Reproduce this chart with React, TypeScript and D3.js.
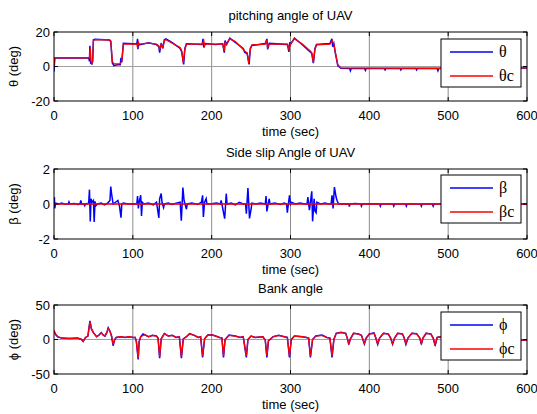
import * as React from "react";
import * as d3 from "d3";

// time axis
const timeTicks = [0, 100, 200, 300, 400, 500, 600];

// pitching angle (deg): [time, value]
const thetaCmd = [
  [0, 0], [1, 5], [44, 5], [45, 5], [46, 11], [47, 3], [48, 2], [49, 3], [50, 15], [52, 15.5], [70, 15.5],
  [72, 15], [74, 3], [76, 1.5], [84, 1.5], [86, 3], [88, 13], [100, 13], [105, 13], [106, 11], [107, 14],
  [108, 13], [120, 13.5], [130, 13], [133, 12], [134, 9.7], [136, 13], [138, 11], [140, 15], [142, 15.5],
  [150, 13.5], [160, 11], [162, 9], [164, 2], [166, 10], [168, 13], [188, 13], [190, 15], [191, 12],
  [192, 13], [205, 13], [214, 13], [216, 9], [217, 14], [219, 13], [223, 16], [230, 14.5], [240, 10],
  [242, 8.8], [245, 8], [247, 2], [249, 10], [251, 12.5], [268, 13], [270, 15], [271, 11], [273, 13],
  [296, 13], [298, 10], [300, 13], [305, 16], [315, 13], [325, 9], [327, 8], [329, 2.4], [331, 10],
  [333, 12.5], [350, 13], [353, 15], [355, 13], [357, 8], [360, 1], [364, -0.8], [400, -1], [490, -1],
  [600, -0.8],
];
const theta = [
  [0, -3], [1, 5], [44, 5], [45, 3], [45.5, 12], [46.5, 2], [48, 1.5], [49, 3], [50, 15.5], [52, 15.8],
  [70, 15.3], [72, 14.5], [74, 2], [76, 0.5], [80, 1], [84, 1], [85, 5], [86, 2.5], [88, 13.5], [100, 13.2],
  [105, 13], [106, 16], [106.5, 10], [107, 13.5], [108, 12.5], [120, 13.8], [130, 12.7], [133, 11.5],
  [134, 8], [136, 13.5], [138, 10.5], [140, 15.5], [142, 16], [150, 13.8], [160, 10.5], [162, 8.5],
  [164.5, 1.2], [166, 10.5], [168, 13.2], [188, 12.8], [189, 16], [190, 11], [191, 12.5], [192, 13.3],
  [205, 12.8], [214, 13.2], [216, 8], [217, 15], [219, 12.8], [223, 16.5], [230, 14], [240, 10.5],
  [242, 8.2], [245, 7.5], [247.5, 1.2], [249, 10.5], [251, 12.2], [268, 13.3], [270, 16], [271, 10],
  [273, 13.4], [296, 12.8], [298, 8.5], [299, 14], [300, 12.8], [305, 16.5], [315, 12.6], [325, 8.5],
  [327, 7.5], [329, 2], [331, 10.5], [333, 12.8], [350, 13.3], [352.5, 16], [353.5, 11.5], [355, 13.3],
  [357, 7.5], [360, 0.5], [364, -1], [375, -1.1], [376, -2.4], [377, -1.1], [394, -1.1], [395, -2.2],
  [396, -1.1], [419, -1.1], [420, -2], [421, -1.1], [439, -1.1], [440, -2], [441, -1.1], [459, -1.1],
  [460, -2], [461, -1.1], [486, -1.1], [487, -2.4], [488, -1.1], [600, -0.9],
];

// side slip angle (deg)
const betaCmd = [[0, 0], [600, 0]];
const beta = [
  [0, 0], [0.5, 0.4], [1, -0.25], [2, 0.05], [6, 0], [10, 0.05], [14, -0.02], [18, 0], [19, 0.12], [20, 0],
  [26, 0.03], [30, -0.03], [33, 0], [34, 0.2], [35, 0], [38, 0], [39, -0.1], [40, 0], [44, 0.05], [45, 0.82],
  [46, -1.0], [47, 0.3], [48, 0.1], [50, 0.2], [51, -1.03], [52, 0.15], [53, -0.1], [55, 0], [60, 0.05],
  [64, -0.05], [68, 0.05], [71, 0.2], [72, 1.0], [73, 0.6], [74, 0.3], [75, 0], [78, 0.1], [81, 0.2],
  [83, -0.1], [85, -0.78], [86, 0], [88, 0.05], [94, 0], [100, 0.02], [105, 0], [106, 0.46], [107, -0.25],
  [108, 0.1], [110, 0.5], [111, -0.69], [112, 0.1], [114, 0], [120, 0.05], [126, -0.05], [130, 0.1],
  [133, -0.8], [134, 0.3], [136, 0.6], [137, 0.1], [139, -0.2], [140, 0], [145, 0.05], [150, -0.03],
  [155, 0.05], [160, 0.1], [161.5, -0.95], [163.5, 0.94], [165, 0.2], [168, -0.3], [169, 0], [175, 0.05],
  [182, -0.03], [187, 0.1], [188.5, 0.5], [189.5, -0.74], [191, 0.1], [193, 0.3], [194, 0], [200, 0.02],
  [206, 0.05], [211, 0], [212, 0.2], [213, 0], [216.5, -0.84], [218.5, 0.59], [219.5, 0], [225, 0.05],
  [230, -0.05], [235, 0.1], [240, 0], [243, 0], [244, -0.55], [246, 0.91], [248, -0.82], [250, -0.3],
  [251, 0.05], [256, 0], [262, 0.05], [268, 0], [269, 0.46], [270, -0.42], [273, 0.3], [274, 0], [280, 0.05],
  [287, -0.03], [292, 0.05], [295, 0], [296, -0.5], [298.7, 0.5], [300, 0], [301, 0.1], [306, 0],
  [312, 0.05], [318, 0], [321, 0], [322, 0.4], [324, -0.35], [327, 0.73], [328, -0.99], [330, 0.3],
  [331, -0.4], [332.5, -0.5], [333.5, 0.1], [338, 0], [344, 0.05], [348, 0], [351.5, 0], [352.7, 0.5],
  [354, -0.25], [355.7, 0.97], [357.8, 0.4], [359, 0.2], [361, 0], [368, 0.02], [374, 0], [374.7, -0.15],
  [375.5, 0], [382, 0.03], [389, 0], [390, -0.12], [391, 0], [400, 0.02], [413, 0], [414, -0.12], [415, 0],
  [430, 0], [431, -0.12], [432, 0], [446, 0], [447, -0.12], [448, 0], [465, 0], [466, -0.12], [467, 0],
  [480, 0], [481, -0.12], [482, 0], [490, 0], [600, 0],
];

// bank angle (deg)
const phiCmd = [
  [0, 13.5], [2, 8], [5, 4], [10, 2], [20, 1.5], [30, 2], [35, 0], [37, -2.4], [40, 3], [43, 5],
  [45.6, 26], [47.5, 16], [50, 10], [54, 4], [57, 6], [60, 9.7], [62, 7], [64.6, 5], [67, 10],
  [68.8, 16], [71, 12], [73, 5], [75, -7], [77, 0], [79, 3], [85, 4], [90, 3], [95, 4], [100, 3],
  [103, 3], [104.5, -3], [106.8, -27], [108, -3], [110, 4], [115, 7], [120, 4], [125, 6], [130, 5],
  [132, 2], [134, -25], [136, 1], [140, 8.5], [145, 5], [150, 6], [155, 3], [159, 4], [161.6, -25],
  [164, 1], [168, 4], [172, 8], [178, 6], [183, 3], [186, 4], [188.5, -24], [191, 1], [195, 6], [200, 7],
  [205, 5], [210, 3], [213, 2], [215, -24], [217, 0], [222, 6], [230, 5], [236, 3], [240, 4], [244, -24],
  [246, 0], [250, 5], [255, 3], [265, 4], [268, -1], [270, -24], [272, -2], [278, 4], [285, 6], [292, 4],
  [296, 3], [298.7, -24], [301, 0], [305, 5], [315, 4], [320, 3], [323, 2], [325.3, -24], [328, 0],
  [332, 5], [340, 6], [346, 3], [350, 2], [352.7, -24], [355, 0], [358, 9], [364, 10], [370, 9],
  [372, 2], [374, -6], [376, 1], [380, 9], [386, 8], [390, 6], [393.7, -5.5], [396, 2], [400, 8],
  [406, 9], [408, 3], [410.6, -6], [413, 2], [418, 9], [424, 8], [427, 2], [429.5, -6], [432, 2],
  [436, 9], [442, 8], [444, 3], [446.4, -6], [449, 2], [454, 9], [460, 8], [464, 2], [466, -6], [468, 2],
  [472, 9], [478, 8], [481, 2], [483.5, -8], [486, 3], [490, 4], [495, 2], [590, -1], [600, -1],
];
const phi = [
  [0, 12], [2, 7], [5, 3.5], [10, 2], [20, 1.5], [30, 2], [35, 0], [37, -2.8], [40, 3], [43, 5],
  [45.6, 27], [47.5, 15], [50, 10], [54, 4], [57, 6.5], [60, 10], [62, 7], [64.6, 5], [67, 10],
  [68.8, 17], [71, 12], [73, 5], [75, -9], [77, 0], [79, 3], [85, 4], [90, 3], [95, 4], [100, 3],
  [103, 3], [104.5, -3], [106.8, -29], [108, -3], [110, 4], [113, 8], [120, 4], [125, 6], [130, 5],
  [132, 2], [134, -27], [136, 1], [140, 8.5], [145, 5], [150, 6], [155, 3], [159, 4], [161.6, -27],
  [164, 1], [168, 4], [172, 8.5], [178, 6], [183, 3], [186, 4], [188.5, -26], [191, 1], [195, 6.5],
  [200, 7], [205, 5], [210, 3], [213, 2], [215, -26], [217, 0], [222, 6.5], [230, 5], [236, 3], [240, 4],
  [244, -26], [246, 0], [250, 5], [255, 3], [265, 4], [268, -1], [270, -26], [272, -2], [278, 4],
  [285, 6], [292, 4], [296, 3], [298.7, -26], [301, 0], [305, 5], [315, 4], [320, 3], [323, 2],
  [325.3, -26], [328, 0], [332, 5], [340, 6.5], [346, 3], [350, 2], [352.7, -26], [355, 0], [358, 9],
  [364, 10.5], [370, 9], [372, 2], [374, -7.5], [376, 1], [380, 9], [386, 8], [390, 6], [393.7, -6.5],
  [396, 2], [400, 8], [406, 9.5], [408, 3], [410.6, -7], [413, 2], [418, 9], [424, 8], [427, 2],
  [429.5, -7], [432, 2], [436, 9], [442, 8], [444, 3], [446.4, -7], [449, 2], [454, 9], [460, 8.5],
  [464, 2], [466, -7], [468, 2], [472, 9], [478, 8], [481, 2], [483.5, -9], [486, 3], [490, 4], [495, 2],
  [590, -1], [600, -1],
];

const panels = [
  {
    title: "pitching angle of UAV", ylabel: "θ (deg)", top: 32, bottom: 101, domain: [-20, 20],
    ticks: [-20, 0, 20], actual: theta, cmd: thetaCmd, names: ["θ", "θc"], legendTop: 39,
  },
  {
    title: "Side slip Angle of UAV", ylabel: "β (deg)", top: 169, bottom: 239, domain: [-2, 2],
    ticks: [-2, 0, 2], actual: beta, cmd: betaCmd, names: ["β", "βc"], legendTop: 175,
  },
  {
    title: "Bank angle", ylabel: "ϕ (deg)", top: 305, bottom: 374, domain: [-50, 50],
    ticks: [-50, 0, 50], actual: phi, cmd: phiCmd, names: ["ϕ", "ϕc"], legendTop: 312,
  },
];

const left = 54;
const right = 527;
const font = "'Liberation Sans', Arial, sans-serif";

function Panel({ p, idx }) {
  const x = d3.scaleLinear().domain([0, 600]).range([left, right]);
  const y = d3.scaleLinear().domain(p.domain).range([p.bottom, p.top]);
  const line = d3.line().x(d => x(d[0])).y(d => y(d[1]));
  const clipId = `clip${idx}`;
  const midX = (left + right) / 2;
  const tl = 4;

  return (
    <g>
      <defs>
        <clipPath id={clipId}>
          <rect x={left} y={p.top} width={right - left} height={p.bottom - p.top} />
        </clipPath>
      </defs>
      <rect x={left} y={p.top} width={right - left} height={p.bottom - p.top} fill="#fff" />
      {/* grid */}
      {timeTicks.slice(1, -1).map(t => (
        <line key={t} x1={x(t)} x2={x(t)} y1={p.top} y2={p.bottom} stroke="#8c8c8c" strokeWidth={1} />
      ))}
      <line x1={left} x2={right} y1={y(0)} y2={y(0)} stroke="#a0a0a0" strokeWidth={1} />
      {/* data */}
      <g clipPath={`url(#${clipId})`}>
        <path d={line(p.actual)} fill="none" stroke="#0000ff" strokeWidth={1.5} />
        <path d={line(p.cmd)} fill="none" stroke="#ff0000" strokeWidth={1.3} />
      </g>
      {/* box and ticks */}
      <rect x={left} y={p.top} width={right - left} height={p.bottom - p.top} fill="none" stroke="#000" strokeWidth={1} />
      {timeTicks.map(t => (
        <g key={t}>
          <line x1={x(t)} x2={x(t)} y1={p.bottom} y2={p.bottom - tl} stroke="#000" />
          <line x1={x(t)} x2={x(t)} y1={p.top} y2={p.top + tl} stroke="#000" />
          <text x={x(t)} y={p.bottom + 19} textAnchor="middle" fontSize={13} fontFamily={font}>{t}</text>
        </g>
      ))}
      {p.ticks.map(v => (
        <g key={v}>
          <line x1={left} x2={left + tl} y1={y(v)} y2={y(v)} stroke="#000" />
          <line x1={right} x2={right - tl} y1={y(v)} y2={y(v)} stroke="#000" />
          <text x={left - 4} y={y(v) + 4.5} textAnchor="end" fontSize={13} fontFamily={font}>{v}</text>
        </g>
      ))}
      <text x={midX} y={p.top - 12} textAnchor="middle" fontSize={13} fontFamily={font}>{p.title}</text>
      <text x={midX} y={p.bottom + 35} textAnchor="middle" fontSize={13} fontFamily={font}>time (sec)</text>
      <text transform={`translate(18,${(p.top + p.bottom) / 2}) rotate(-90)`} textAnchor="middle"
        fontSize={13} fontFamily={font}>{p.ylabel}</text>
      {/* legend */}
      <g transform={`translate(441,${p.legendTop})`}>
        <rect x={0} y={0} width={80} height={48} fill="#fff" stroke="#000" strokeWidth={1} />
        {p.names.map((n, i) => (
          <g key={n}>
            <line x1={9} x2={52} y1={13 + i * 24} y2={13 + i * 24} stroke={i === 0 ? "#0000ff" : "#ff0000"}
              strokeWidth={1.5} />
            <text x={58} y={18 + i * 24} fontSize={16} fontFamily="'Liberation Serif', 'Times New Roman', serif">{n}</text>
          </g>
        ))}
      </g>
    </g>
  );
}

export default function App() {
  return (
    <svg width={537} height={414} style={{ position: "absolute", left: 0, top: 0, background: "#fff" }}>
      <rect width={537} height={414} fill="#fff" />
      {panels.map((p, i) => <Panel key={i} p={p} idx={i} />)}
    </svg>
  );
}
